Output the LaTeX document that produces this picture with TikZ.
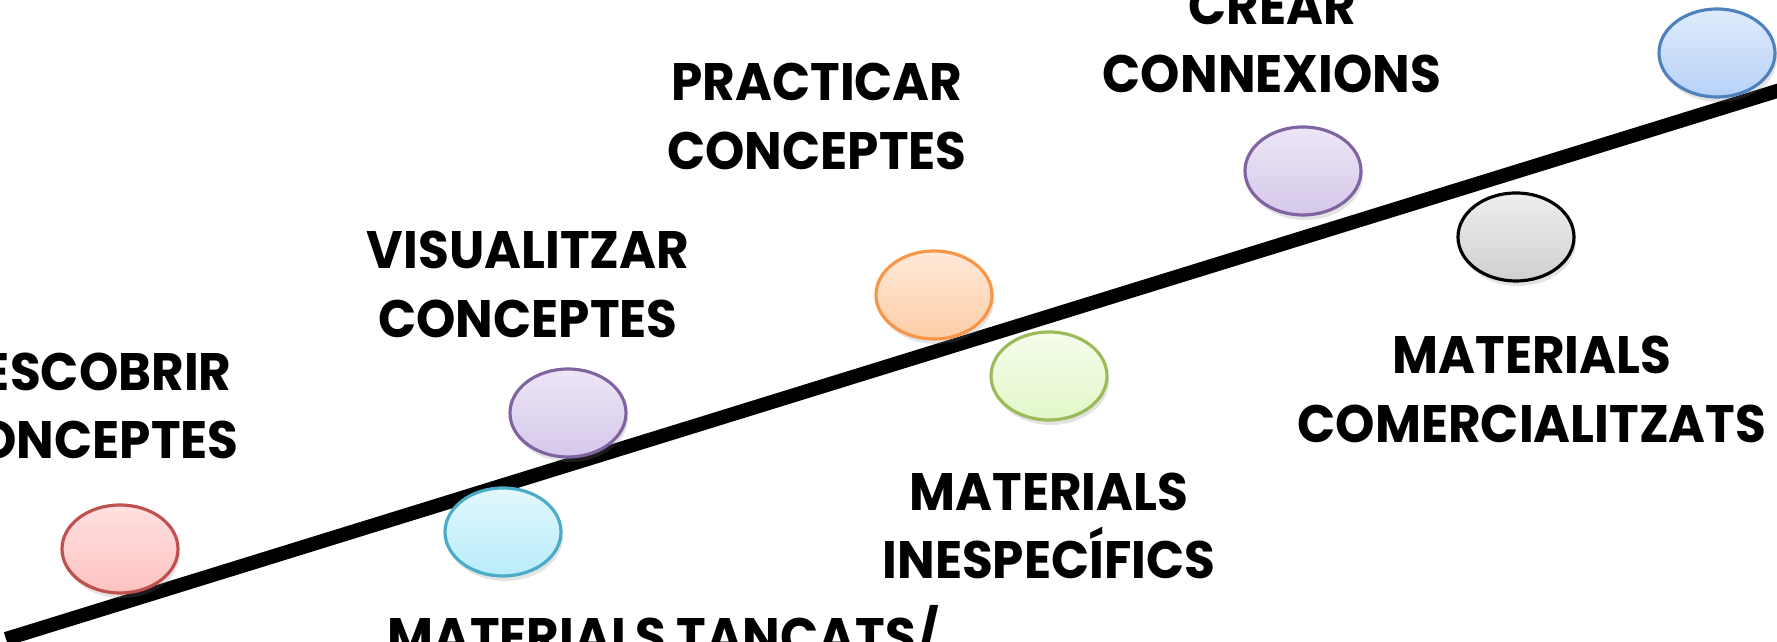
\documentclass[tikz,border=0pt]{standalone}
\usepackage{fontspec}
\setmainfont{Poppins}[FakeStretch=0.95]
\usetikzlibrary{shapes.geometric,shadows}

\definecolor{vermell}{HTML}{C0504D}
\definecolor{cian}{HTML}{4BACC6}
\definecolor{lila}{HTML}{8064A2}
\definecolor{taronja}{HTML}{F79646}
\definecolor{verd}{HTML}{9BBB59}
\definecolor{blau}{HTML}{4F81BD}
\definecolor{vermellA}{HTML}{FFE0E0}
\definecolor{vermellB}{HTML}{FDC2C2}
\definecolor{cianA}{HTML}{E2F8FD}
\definecolor{cianB}{HTML}{B8ECFA}
\definecolor{lilaA}{HTML}{EDE6F6}
\definecolor{lilaB}{HTML}{D5C8EA}
\definecolor{taronjaA}{HTML}{FFE9D8}
\definecolor{taronjaB}{HTML}{FCCDA6}
\definecolor{verdA}{HTML}{F5FCEC}
\definecolor{verdB}{HTML}{E2F7C8}
\definecolor{grisA}{HTML}{EEEEEE}
\definecolor{grisB}{HTML}{D0D0D0}
\definecolor{blauA}{HTML}{DFEBFC}
\definecolor{blauB}{HTML}{B7D2F7}

\begin{document}
\begin{tikzpicture}
        \tikzstyle{bolla} = [ellipse,minimum width=1.16cm,minimum height=0.88cm,inner sep=0pt,line width=0.9pt,
            drop shadow={opacity=0.22,shadow xshift=0.02cm,shadow yshift=-0.05cm}]
        \tikzstyle{etiqueta} = [align=center,font=\fontsize{15}{19.4}\selectfont\bfseries,inner sep=0pt]

        \useasboundingbox (0,0) rectangle (17.77,6.42);
        \clip (0,0) rectangle (17.77,6.42);


        \coordinate (inici) at (0.06,0.03);
        \coordinate (final) at (17.90,5.55);
        \draw[line width=4pt] (inici) -- (final);


        \node[bolla,draw=vermell,top color=vermellA,bottom color=vermellB] (B1) at (1.20,0.93){};
        \node[bolla,draw=cian,top color=cianA,bottom color=cianB] (B2) at (5.03,1.10){};
        \node[bolla,draw=lila,top color=lilaA,bottom color=lilaB] (B3) at (5.68,2.29){};
        \node[bolla,draw=taronja,top color=taronjaA,bottom color=taronjaB] (B4) at (9.34,3.47){};
        \node[bolla,draw=verd,top color=verdA,bottom color=verdB] (B5) at (10.49,2.66){};
        \node[bolla,draw=lila,top color=lilaA,bottom color=lilaB] (B6) at (13.03,4.71){};
        \node[bolla,draw=black,top color=grisA,bottom color=grisB] (B7) at (15.16,4.05){};
        \node[bolla,draw=blau,top color=blauA,bottom color=blauB] (B8) at (17.17,5.89){};


        \node[etiqueta] (descobrir) at (0.89,2.36){DESCOBRIR\\CONCEPTES};
        \node[etiqueta] (visualitzar) at (5.28,3.575){VISUALITZAR\\CONCEPTES};
        \node[etiqueta] (practicar) at (8.17,5.255){PRACTICAR\\CONCEPTES};
        \node[etiqueta] (crear) at (12.72,6.02){CREAR\\CONNEXIONS};


        \node[etiqueta] (tancats) at (6.63,0.07){MATERIALS TANCATS/};
        \node[etiqueta] (inespecifics) at (10.49,1.16){MATERIALS\\INESPECÍFICS};
        \node[etiqueta] (comercials) at (15.32,2.525){MATERIALS\\COMERCIALITZATS};

\end{tikzpicture}
\end{document}
